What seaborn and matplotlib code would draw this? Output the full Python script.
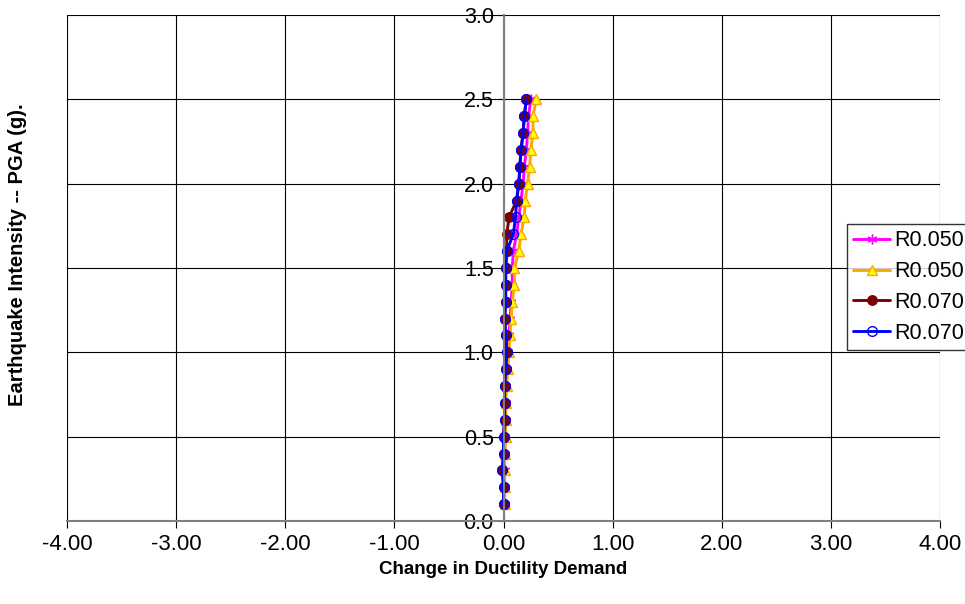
import numpy as np
import pandas as pd
import matplotlib
matplotlib.use("Agg")
import matplotlib.pyplot as plt
import seaborn as sns

# PGA levels (g)
pga = [0.1, 0.2, 0.3, 0.4, 0.5, 0.6, 0.7, 0.8, 0.9, 1.0,
       1.1, 1.2, 1.3, 1.4, 1.5, 1.6, 1.7, 1.8, 1.9, 2.0,
       2.1, 2.2, 2.3, 2.4, 2.5]

# change in ductility demand, per series
r050_a = [0.01, 0.01, 0.01, 0.01, 0.015, 0.02, 0.02, 0.02, 0.03, 0.04,
          0.05, 0.06, 0.07, 0.08, 0.08, 0.09, 0.12, 0.14, 0.16, 0.18,
          0.19, 0.21, 0.22, 0.23, 0.25]
r050_b = [0.01, 0.01, 0.01, 0.01, 0.02, 0.02, 0.02, 0.03, 0.04, 0.05,
          0.06, 0.07, 0.08, 0.10, 0.10, 0.14, 0.16, 0.19, 0.20, 0.22,
          0.24, 0.25, 0.27, 0.27, 0.30]
r070_a = [0.00, 0.00, -0.01, 0.00, 0.00, 0.01, 0.01, 0.01, 0.02, 0.03,
          0.02, 0.01, 0.02, 0.02, 0.02, 0.03, 0.03, 0.05, 0.12, 0.14,
          0.15, 0.16, 0.18, 0.19, 0.21]
r070_b = [0.00, 0.00, -0.01, 0.00, 0.00, 0.01, 0.01, 0.01, 0.02, 0.03,
          0.02, 0.01, 0.02, 0.02, 0.02, 0.03, 0.09, 0.11, 0.12, 0.14,
          0.15, 0.16, 0.18, 0.19, 0.21]

labels = ["R0.050", "R0.050", "R0.070", "R0.070"]

sns.set_style("white")
plt.rcParams['font.family'] = ['Liberation Sans', 'DejaVu Sans']
plt.rcParams['text.color'] = 'black'

fig = plt.figure(figsize=(9.65, 6.04), dpi=100)
ax = fig.add_axes([67/965, 1 - 521/604, 873/965, 506/604])

styles = [
    dict(color="#FF00FF", marker=(6, 2, 0), markersize=7, markeredgewidth=1.0,
         markeredgecolor="#FF00FF", markerfacecolor="#FF00FF"),
    dict(color="#FFA500", marker="^", markersize=6.5, markeredgewidth=1.0,
         markeredgecolor="#FFA500", markerfacecolor="#FFFF00"),
    dict(color="#800000", marker="o", markersize=7, markeredgewidth=0.8,
         markeredgecolor="#800000", markerfacecolor="#800000"),
    dict(color="#0000FF", marker="o", markersize=7, markeredgewidth=1.0,
         markeredgecolor="#0000FF", markerfacecolor="none"),
]

for vals, lab, st in zip([r050_a, r050_b, r070_a, r070_b], labels, styles):
    df = pd.DataFrame({"x": vals, "y": pga})
    sns.lineplot(data=df, x="x", y="y", sort=False, estimator=None,
                 linewidth=2.1, label=lab, ax=ax, **st)

ax.set_xlim(-4, 4)
ax.set_ylim(0, 3)
ax.set_xticks(np.arange(-4, 4.01, 1))
ax.set_xticklabels([f"{v:.2f}" for v in np.arange(-4, 4.01, 1)])
ax.set_yticks(np.arange(0, 3.01, 0.5))
ax.set_yticklabels([f"{v:.1f}" for v in np.arange(0, 3.01, 0.5)])
ax.grid(True, color="black", linewidth=0.8)
ax.set_axisbelow(True)

for s in ["top", "right"]:
    ax.spines[s].set_visible(False)
ax.spines["left"].set_position(("data", 0))
ax.spines["left"].set_color("#808080")
ax.spines["bottom"].set_color("#808080")
ax.spines["left"].set_linewidth(1.5)
ax.spines["bottom"].set_linewidth(1.5)
ax.tick_params(axis="x", direction="out", length=5, width=0.8,
               colors="black", labelsize=16, pad=4, bottom=True)
ax.tick_params(axis="y", direction="out", length=4, width=0.8,
               colors="black", labelsize=15.5, pad=3, left=True)

ax.set_xlabel("Change in Ductility Demand", fontsize=13.5, fontweight="bold",
              labelpad=5, color="black")
fig.text(18/965, 1 - 255/604, "Earthquake Intensity -- PGA (g).", rotation=90,
         fontsize=14.5, fontweight="bold", ha="center", va="center")
ax.set_ylabel("")

leg = ax.legend(loc="upper left", bbox_to_anchor=(847/965, 1 - 224/604),
                bbox_transform=fig.transFigure, frameon=True, fancybox=False,
                fontsize=15.5, handlelength=1.7, handletextpad=0.2,
                borderpad=0.3, labelspacing=0.45, borderaxespad=0)
leg.get_frame().set_edgecolor("black")
leg.get_frame().set_linewidth(1)

fig.savefig("out.png", dpi=100)
